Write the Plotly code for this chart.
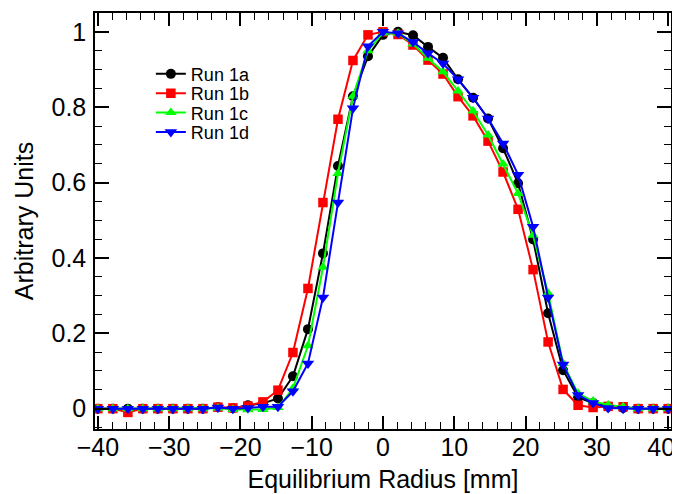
import numpy as np
import plotly.graph_objects as go

# Equilibrium radius grid (39 evenly spaced points from -40 to 40 mm)
radius = np.linspace(-40, 40, 39)

run_1a = [0, 0, 0, 0, 0, 0, 0, 0, 0.004, 0.001, 0.009, 0.014, 0.027, 0.086, 0.211, 0.412,
          0.644, 0.829, 0.935, 0.992, 1.0, 0.991, 0.96, 0.931, 0.874, 0.825, 0.770, 0.691,
          0.598, 0.449, 0.253, 0.102, 0.03, 0.015, 0.005, 0.002, 0, 0, 0]
run_1b = [0, 0, -0.01, 0, 0, 0, 0, 0, 0.004, 0.002, 0.007, 0.018, 0.049, 0.149, 0.319, 0.547,
          0.768, 0.924, 0.992, 1.0, 0.993, 0.965, 0.925, 0.888, 0.828, 0.777, 0.71, 0.628,
          0.529, 0.369, 0.177, 0.051, 0.009, 0.003, 0.006, 0.005, 0, 0, 0]
run_1c = [0, 0, 0, 0, 0, 0, 0, 0, 0.002, -0.002, -0.003, -0.002, 0.003, 0.054, 0.167, 0.375,
          0.624, 0.829, 0.95, 0.997, 0.996, 0.968, 0.93, 0.894, 0.843, 0.79, 0.726, 0.649,
          0.571, 0.46, 0.306, 0.12, 0.04, 0.02, 0.01, 0.005, 0, 0, 0]
run_1d = [0, 0, 0, 0, 0, 0, 0, 0, 0.003, 0, 0.002, 0.005, 0.005, 0.046, 0.12, 0.295,
          0.547, 0.797, 0.962, 1.0, 0.996, 0.973, 0.943, 0.916, 0.874, 0.825, 0.770, 0.704,
          0.621, 0.483, 0.295, 0.117, 0.036, 0.015, 0.002, 0, 0, 0, 0]

series_names = ["Run 1a", "Run 1b", "Run 1c", "Run 1d"]
series_values = [run_1a, run_1b, run_1c, run_1d]
colors = ["#000000", "#ff0000", "#00ff00", "#0000ff"]
symbols = ["circle", "square", "triangle-up", "triangle-down"]
sizes = [10, 9.5, 10, 11]
legend_ids = ["legend", "legend2", "legend3", "legend4"]
legend_y = [0.853, 0.8065, 0.76, 0.713]

x_tickvals = [-40, -30, -20, -10, 0, 10, 20, 30, 40]
x_ticktext = ["\u221240", "\u221230", "\u221220", "\u221210", "0", "10", "20", "30", "40\u2007"]
y_tickvals = [0, 0.2, 0.4, 0.6, 0.8, 1.0]
y_ticktext = ["0", "0.2", "0.4", "0.6", "0.8", "1"]

FONT = "Liberation Sans, Arial, sans-serif"

fig = go.Figure()
for name, vals, c, s, sz, lid in zip(series_names, series_values, colors, symbols, sizes, legend_ids):
    fig.add_trace(go.Scatter(
        x=radius, y=vals, name=name, mode="lines+markers",
        line=dict(color=c, width=2),
        marker=dict(color=c, symbol=s, size=sz, line=dict(width=0)),
        legend=lid,
    ))

axis_common = dict(
    showgrid=False, zeroline=False, showline=True, linecolor="black", linewidth=1.5,
    mirror="ticks", ticks="inside", tickcolor="black", tickwidth=1.5, automargin=False,
    tickfont=dict(family=FONT, size=25, color="black"), ticklabeloverflow="allow",
)

fig.update_xaxes(
    range=[-40.4, 40.4], ticklen=13,
    tickvals=x_tickvals, ticktext=x_ticktext,
    minor=dict(tickmode="linear", tick0=0, dtick=2, ticks="inside", ticklen=7,
               tickcolor="black", tickwidth=1.2),
    title=dict(text="Equilibrium Radius [mm]", font=dict(family=FONT, size=25, color="black"),
               standoff=11),
    ticklabelstandoff=-5,
    **axis_common,
)
fig.update_yaxes(
    range=[-0.054, 1.05], ticklen=14,
    tickvals=y_tickvals, ticktext=y_ticktext,
    minor=dict(tickmode="linear", tick0=0, dtick=0.05, ticks="inside", ticklen=7,
               tickcolor="black", tickwidth=1.2),
    title=dict(text="Arbitrary Units", font=dict(family=FONT, size=25, color="black"),
               standoff=11),
    ticklabelstandoff=2,
    **axis_common,
)

legend_common = dict(x=0.097, xanchor="left", yanchor="middle",
                     bgcolor="rgba(0,0,0,0)", borderwidth=0,
                     font=dict(family=FONT, size=18, color="black"),
                     itemwidth=30)

# page body adds an 8px offset; the figure is sized so the plot frame lands where the reference has it
fig.update_layout(
    width=680, height=486,
    margin=dict(l=87, r=17, t=5, b=65),
    plot_bgcolor="white", paper_bgcolor="white",
    font=dict(family=FONT, color="black"),
    showlegend=True,
    legend=dict(y=legend_y[0], **legend_common),
    legend2=dict(y=legend_y[1], **legend_common),
    legend3=dict(y=legend_y[2], **legend_common),
    legend4=dict(y=legend_y[3], **legend_common),
)

fig.write_html("out.html")
